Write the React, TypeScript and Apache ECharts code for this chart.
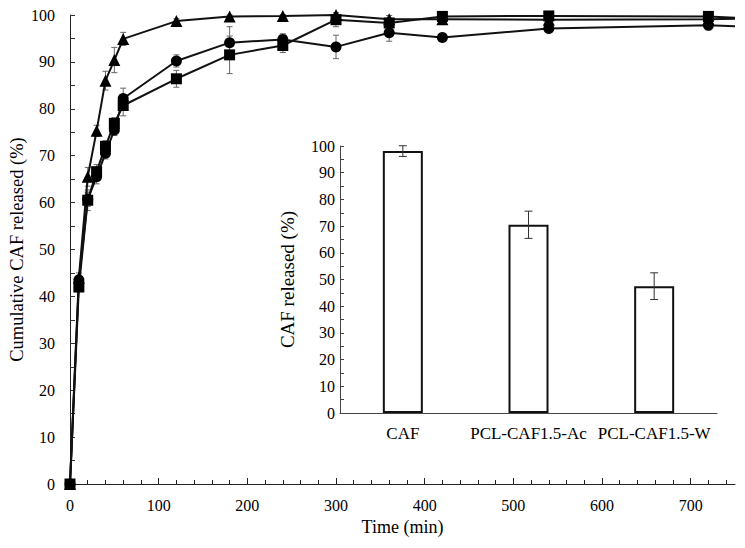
import React, { useEffect, useRef } from "react";
import * as echarts from "echarts";

// Main release profile data (time in min, cumulative release %)
const times = [0, 10, 20, 30, 40, 50, 60, 120, 180, 240, 300, 360, 420, 540, 720, 750];
const triangleValues = [0, 44, 65.5, 75.3, 86, 90.4, 94.9, 98.7, 99.7, 99.8, 100, 99.1, 99.1, 99.0, 99.1, 99.2];
const triangleErrors = [0, 1, 2, 1.2, 2, 2.7, 1.4, 0.5, 0.3, 0.3, 0.5, 0.8, 0.4, 0.4, 0.4, 0];
const circleValues = [0, 43.5, 60.7, 65.5, 70.5, 75.5, 82.2, 90.2, 94.1, 94.8, 93.2, 96.2, 95.2, 97.1, 97.8, 97.6];
const circleErrors = [0, 1, 1.5, 1.5, 1.2, 1.2, 2.2, 1.3, 3.4, 1.2, 2.5, 1.8, 0.8, 0.8, 1.0, 0];
const squareValues = [0, 42, 60.5, 66.6, 72, 76.9, 80.7, 86.4, 91.5, 93.5, 99.0, 98.3, 99.7, 99.8, 99.7, 99.4];
const squareErrors = [0, 1, 2.2, 1.5, 1.2, 1.2, 2.2, 1.8, 4.0, 1.5, 1.5, 1.0, 0.4, 0.4, 0.4, 0];

const xMajorTicks = [0, 100, 200, 300, 400, 500, 600, 700];
const xMinorTicks = [0, 20, 40, 60, 80, 100, 120, 140, 160, 180, 200, 220, 240, 260, 280, 300, 320, 340, 360, 380, 400, 420, 440, 460, 480, 500, 520, 540, 560, 580, 600, 620, 640, 660, 680, 700, 720, 740];

// Inset bar data
const insetCategories = ["CAF", "PCL-CAF1.5-Ac", "PCL-CAF1.5-W"];
const insetValues = [98.1, 70.5, 47.5];
const insetErrors = [2.0, 5.1, 5.0];

const FONT = "Liberation Serif";

function errData(xs: (number | string)[], vals: number[], errs: number[]) {
  const out: number[][] = [];
  for (let i = 0; i < vals.length; i++) {
    if (errs[i] > 0) out.push([typeof xs[i] === "number" ? (xs[i] as number) : i, vals[i] - errs[i], vals[i] + errs[i]]);
  }
  return out;
}

function renderErr(capHalf: number, color: string) {
  return (params: any, api: any) => {
    const x = api.value(0);
    const lo = api.value(1);
    const hi = api.value(2);
    const p1 = api.coord([x, lo]);
    const p2 = api.coord([x, hi]);
    const style = { stroke: color, lineWidth: 1 };
    return {
      type: "group",
      children: [
        { type: "line", shape: { x1: p1[0], y1: p1[1], x2: p2[0], y2: p2[1] }, style },
        { type: "line", shape: { x1: p1[0] - capHalf, y1: p1[1], x2: p1[0] + capHalf, y2: p1[1] }, style },
        { type: "line", shape: { x1: p2[0] - capHalf, y1: p2[1], x2: p2[0] + capHalf, y2: p2[1] }, style },
      ],
    };
  };
}

function lineData(vals: number[]) {
  return vals.map((v, i) =>
    i === vals.length - 1 ? { value: [times[i], v], symbol: "none" } : { value: [times[i], v] }
  );
}

export default function App() {
  const ref = useRef<HTMLDivElement>(null);
  useEffect(() => {
    document.body.style.margin = "0";
    if (!ref.current) return;
    const chart = echarts.init(ref.current, null, { renderer: "svg" });
    const textBase = { fontFamily: FONT, color: "#000" };
    const lineSeries = (name: string, symbol: string, size: number, vals: number[]) => ({
      type: "line",
      name,
      xAxisIndex: 0,
      yAxisIndex: 0,
      data: lineData(vals),
      symbol,
      symbolSize: size,
      showSymbol: true,
      clip: false,
      z: 3,
      itemStyle: { color: "#000", borderColor: "#000", borderWidth: 0 },
      lineStyle: { color: "#111", width: 2 },
    });
    const errSeries = (vals: number[], errs: number[]) => ({
      type: "custom",
      xAxisIndex: 0,
      yAxisIndex: 0,
      renderItem: renderErr(3, "#666"),
      data: errData(times, vals, errs),
      clip: false,
      z: 2,
    });
    chart.setOption({
      animation: false,
      backgroundColor: "#fff",
      grid: [
        { left: 70, right: 10, top: 15, bottom: 64, containLabel: false, outerBoundsMode: "none" },
        { left: 340, width: 377, top: 146, height: 267, containLabel: false, outerBoundsMode: "none" },
      ],
      xAxis: [
        {
          type: "value",
          gridIndex: 0,
          position: "bottom",
          min: 0,
          max: 750,
          interval: 100,
          axisLine: { show: true, lineStyle: { color: "#222", width: 1 } },
          axisTick: { show: true, inside: true, length: 6, customValues: xMajorTicks, lineStyle: { color: "#222" } },
          axisLabel: { ...textBase, fontSize: 16, margin: 13, customValues: xMajorTicks },
          splitLine: { show: false },
          name: "Time (min)",
          nameLocation: "middle",
          nameGap: 34,
          nameMoveOverlap: false,
          nameTextStyle: { ...textBase, fontSize: 18, fontWeight: "normal" },
        },
        {
          type: "value",
          gridIndex: 0,
          position: "bottom",
          min: 0,
          max: 750,
          interval: 20,
          axisLine: { show: false },
          axisTick: { show: true, inside: true, length: 4, customValues: xMinorTicks, lineStyle: { color: "#222" } },
          axisLabel: { show: false },
          splitLine: { show: false },
        },
        {
          type: "category",
          gridIndex: 1,
          position: "bottom",
          data: insetCategories,
          axisLine: { show: true, lineStyle: { color: "#444", width: 1 } },
          axisTick: { show: false },
          axisLabel: { ...textBase, fontSize: 17, margin: 12, interval: 0 },
          splitLine: { show: false },
        },
      ],
      yAxis: [
        {
          type: "value",
          gridIndex: 0,
          position: "left",
          min: 0,
          max: 100,
          interval: 5,
          axisLine: { show: true, lineStyle: { color: "#222", width: 1 } },
          axisTick: { show: true, inside: true, length: 5, lineStyle: { color: "#333" } },
          axisLabel: {
            ...textBase,
            fontSize: 16,
            margin: 15,
            formatter: (v: number) => (v % 10 === 0 ? String(v) : ""),
          },
          splitLine: { show: false },
          name: "Cumulative CAF released (%)",
          nameLocation: "middle",
          nameGap: 44,
          nameMoveOverlap: false,
          nameTextStyle: { ...textBase, fontSize: 18.5, fontWeight: "normal" },
        },
        {
          type: "value",
          gridIndex: 1,
          position: "left",
          min: 0,
          max: 100,
          interval: 5,
          axisLine: { show: true, lineStyle: { color: "#444", width: 1 } },
          axisTick: { show: true, inside: true, length: 4, lineStyle: { color: "#444" } },
          axisLabel: {
            ...textBase,
            fontSize: 16,
            margin: 5,
            formatter: (v: number) => (v % 10 === 0 ? String(v) : ""),
          },
          splitLine: { show: false },
          name: "CAF released (%)",
          nameLocation: "middle",
          nameGap: 43,
          nameMoveOverlap: false,
          nameTextStyle: { ...textBase, fontSize: 19, fontWeight: "normal" },
        },
      ],
      series: [
        errSeries(triangleValues, triangleErrors),
        errSeries(circleValues, circleErrors),
        errSeries(squareValues, squareErrors),
        lineSeries("Triangle", "triangle", 12, triangleValues),
        lineSeries("Circle", "circle", 11, circleValues),
        lineSeries("Square", "rect", 11, squareValues),
        {
          type: "bar",
          xAxisIndex: 2,
          yAxisIndex: 1,
          data: insetValues,
          barWidth: 40,
          itemStyle: { color: "#fff", borderColor: "#111", borderWidth: 2 },
          z: 2,
        },
        {
          type: "custom",
          xAxisIndex: 2,
          yAxisIndex: 1,
          renderItem: renderErr(4, "#333"),
          data: errData(insetCategories, insetValues, insetErrors),
          z: 4,
        },
      ],
    });
    return () => chart.dispose();
  }, []);
  return <div ref={ref} style={{ width: 745, height: 548 }} />;
}
